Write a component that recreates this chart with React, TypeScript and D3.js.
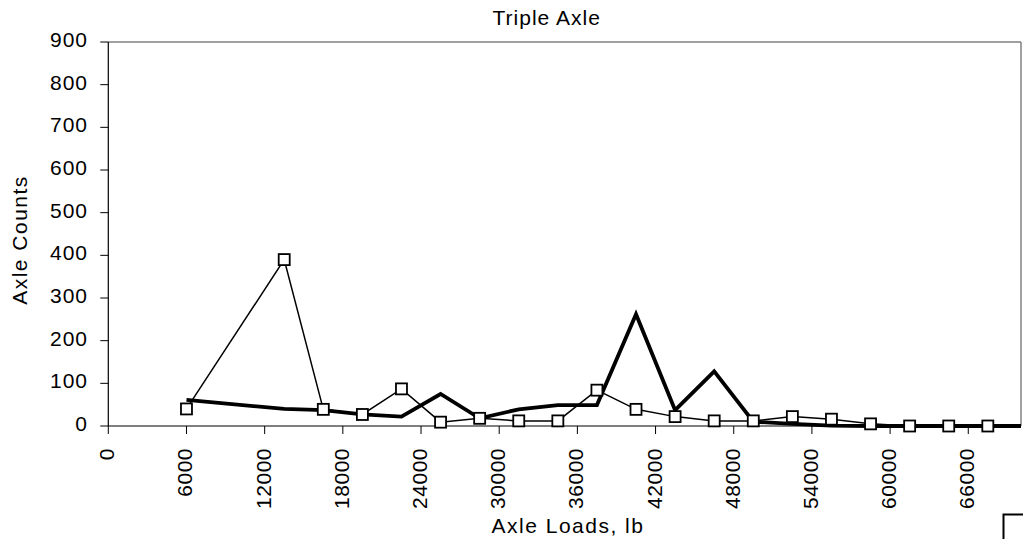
import React from "react";
import * as d3 from "d3";

const loads = [6000, 13500, 16500, 19500, 22500, 25500, 28500, 31500, 34500, 37500, 40500, 43500, 46500, 49500, 52500, 55500, 58500, 61500, 64500, 67500];
const squareSeries = [40, 390, 39, 27, 87, 9, 18, 12, 12, 84, 39, 22, 12, 12, 22, 16, 5, 0, 0, 0];
const thickLoads = [6000, 13500, 16500, 19500, 22500, 25500, 28500, 31500, 34500, 37500, 40500, 43500, 46500, 49500, 52500, 55500, 58500, 61500, 64500, 67500, 70500];
const thickSeries = [61, 40, 37, 27, 22, 75, 18, 39, 49, 49, 262, 37, 128, 10, 5, 1, 0, 0, 0, 0, 0];
const xTicks = [0, 6000, 12000, 18000, 24000, 30000, 36000, 42000, 48000, 54000, 60000, 66000];
const yTicks = [0, 100, 200, 300, 400, 500, 600, 700, 800, 900];

const W = 1023;
const H = 539;
const left = 108.3;
const right = 1021;
const top = 42;
const bottom = 426;
const font = "'Liberation Sans', Arial, sans-serif";

export default function App() {
  const x = d3.scaleLinear().domain([0, 70000]).range([left, left + (70000 / 6000) * 78.18]);
  const y = d3.scaleLinear().domain([0, 900]).range([bottom, top]);
  const thickLine = d3
    .line<number>()
    .x((_, i) => x(thickLoads[i]))
    .y((d) => y(d));
  const thinLine = d3
    .line<number>()
    .x((_, i) => x(loads[i]))
    .y((d) => y(d));

  return (
    <svg
      width={W}
      height={H}
      style={{ position: "absolute", left: 0, top: 0, background: "#fff" }}
      fontFamily={font}
    >
      <defs>
        <clipPath id="plotClip">
          <rect x={left} y={top - 10} width={right - left} height={bottom - top + 20} />
        </clipPath>
      </defs>
      <rect x={0} y={0} width={W} height={H} fill="#fff" />
      {/* plot border */}
      <line x1={left} x2={right} y1={top} y2={top} stroke="#808080" strokeWidth={1.5} />
      <line x1={right} x2={right} y1={top} y2={bottom} stroke="#808080" strokeWidth={1.5} />
      {/* y axis */}
      <line x1={left} x2={left} y1={top} y2={bottom} stroke="#000" strokeWidth={1.2} />
      {yTicks.map((t) => (
        <g key={"y" + t}>
          <line x1={left - 8} x2={left} y1={y(t)} y2={y(t)} stroke="#000" strokeWidth={1} />
          <text x={88} y={y(t) + 5} textAnchor="end" fontSize={21} letterSpacing={1} fill="#000">
            {t}
          </text>
        </g>
      ))}
      {/* x axis */}
      <line x1={left} x2={right} y1={bottom} y2={bottom} stroke="#000" strokeWidth={1.2} />
      {xTicks.map((t) => (
        <g key={"x" + t}>
          <line x1={x(t)} x2={x(t)} y1={bottom} y2={bottom + 8} stroke="#000" strokeWidth={1} />
          <text
            transform={`translate(${x(t) + 6},448) rotate(-90)`}
            textAnchor="end"
            fontSize={21}
            letterSpacing={0.5}
            fill="#000"
          >
            {t}
          </text>
        </g>
      ))}
      {/* series */}
      <g clipPath="url(#plotClip)">
        <path d={thickLine(thickSeries) || ""} fill="none" stroke="#000" strokeWidth={3.8} />
      </g>
      <path d={thinLine(squareSeries) || ""} fill="none" stroke="#000" strokeWidth={1.5} />
      {squareSeries.map((v, i) => (
        <rect
          key={"s" + i}
          x={x(loads[i]) - 5.5}
          y={y(v) - 5.5}
          width={11}
          height={11}
          fill="#fff"
          stroke="#000"
          strokeWidth={1.8}
        />
      ))}
      {/* titles */}
      <text x={546.7} y={25} textAnchor="middle" fontSize={21} letterSpacing={1} fill="#000">
        Triple Axle
      </text>
      <text x={568} y={533} textAnchor="middle" fontSize={21} letterSpacing={1.5} fill="#000">
        Axle Loads, lb
      </text>
      <text
        transform={`translate(26.7,240) rotate(-90)`}
        textAnchor="middle"
        fontSize={21}
        letterSpacing={1.5}
        fill="#000"
      >
        Axle Counts
      </text>
      {/* clipped legend box */}
      <rect x={1003.5} y={514.5} width={40} height={40} fill="#fff" stroke="#000" strokeWidth={2} />
    </svg>
  );
}
